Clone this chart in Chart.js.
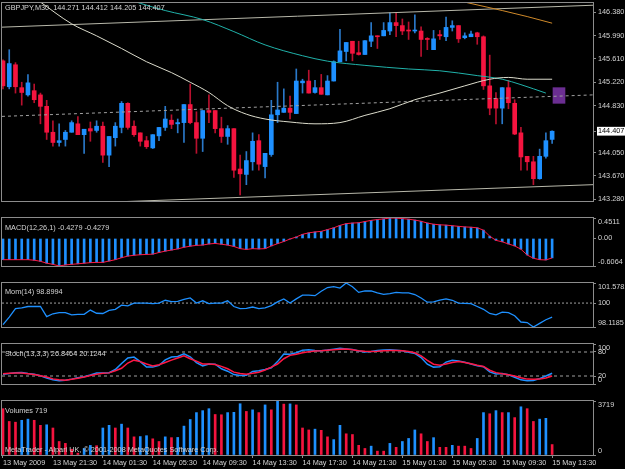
<!DOCTYPE html>
<html>
<head>
<meta charset="utf-8">
<script src="https://cdn.jsdelivr.net/npm/chart.js@4.4.0/dist/chart.umd.min.js"></script>
<style>
html, body { margin: 0; padding: 0; background: #000; overflow: hidden; }
#wrap { position: relative; width: 625px; height: 469px; background: #000; }
canvas { position: absolute; left: 0; }
.lbl { position: absolute; left: 5px; font: 7.3px "Liberation Sans", Arial, sans-serif; line-height: 9px; color: #d4d4d4; white-space: pre; }
</style>
</head>
<body>
<div id="wrap">
  <canvas id="cMain" width="625" height="219" style="top:0px"></canvas>
  <canvas id="cMacd" width="625" height="66" style="top:216px"></canvas>
  <canvas id="cMom" width="625" height="62" style="top:281px"></canvas>
  <canvas id="cStoch" width="625" height="58" style="top:342px"></canvas>
  <canvas id="cVol" width="625" height="70" style="top:399px"></canvas>
  <div class="lbl" style="top:3px">GBPJPY,M30  144.271 144.412 144.205 144.407</div>
  <div class="lbl" style="top:223px">MACD(12,26,1) -0.4279 -0.4279</div>
  <div class="lbl" style="top:287px">Mom(14) 98.8994</div>
  <div class="lbl" style="top:349px">Stoch(13,3,3) 26.8464 20.1244</div>
  <div class="lbl" style="top:406px">Volumes 719</div>
  <div class="lbl" style="top:445px">MetaTrader - Alpari UK, © 2001-2008 MetaQuotes Software Corp.</div>
</div>
<script>
// --- bars (M30), index 0 = 13 May 17:30 ---
const timeLabels = ['13 May 2009', '13 May 21:30', '14 May 01:30', '14 May 05:30', '14 May 09:30', '14 May 13:30',
  '14 May 17:30', '14 May 21:30', '15 May 01:30', '15 May 05:30', '15 May 09:30', '15 May 13:30'];
const timeTickBars = [0, 8, 16, 24, 32, 40, 48, 56, 64, 72, 80, 88];

const candleOpen = [145.575,145.145,145.51,145.13,145.01,145.08,145.01,144.82,144.39,144.22,
  144.27,144.39,144.53,144.35,144.45,144.42,144.49,144.01,144.30,144.47,
  144.87,144.49,144.38,144.25,144.13,144.33,144.47,144.59,144.53,144.55,
  144.85,144.55,144.29,144.75,144.75,144.45,144.32,144.45,143.78,143.69,
  143.90,144.25,143.82,144.02,144.68,144.72,144.79,144.70,145.21,145.24,
  145.05,145.13,145.01,145.24,145.56,145.73,145.90,145.71,145.68,145.90,
  145.99,145.99,146.07,146.21,146.16,146.08,146.07,146.07,145.94,145.76,
  146.01,145.975,146.13,146.16,145.96,145.975,146.04,145.975,145.16,144.95,
  144.79,145.13,144.87,144.38,143.99,143.90,143.62,143.99,144.271];
const candleHigh = [145.59,145.76,145.545,145.22,145.345,145.19,145.04,144.92,144.58,144.53,
  144.42,144.58,144.65,144.44,144.56,144.58,144.56,144.32,144.55,144.90,
  144.88,144.58,144.38,144.32,144.35,144.47,144.82,144.68,144.61,144.85,
  145.19,144.73,144.75,145.01,144.75,144.64,144.50,144.45,144.01,144.07,
  144.38,144.35,144.04,144.92,145.22,145.11,144.99,145.44,145.27,145.42,
  145.25,145.35,145.33,145.575,146.10,145.88,145.90,145.90,145.91,146.21,
  145.99,146.21,146.37,146.37,146.27,146.22,146.34,146.14,145.96,146.08,
  146.08,146.30,146.24,146.16,146.04,146.07,146.05,145.99,145.67,145.05,
  145.13,145.25,144.93,144.47,143.99,143.99,144.11,144.38,144.412];
const candleLow = [145.11,145.11,145.04,144.84,144.99,144.88,144.53,144.27,144.16,144.16,
  144.16,144.39,144.35,144.04,144.24,144.39,143.89,143.82,144.16,144.38,
  144.44,144.32,144.16,144.12,144.12,144.25,144.42,144.45,144.38,144.22,
  144.53,144.04,144.07,144.55,144.38,144.22,144.19,143.64,143.35,143.52,
  143.76,143.76,143.63,143.99,144.55,144.72,144.61,144.70,145.04,145.04,
  145.04,145.02,145.01,145.24,145.56,145.575,145.575,145.67,145.68,145.81,
  145.78,145.99,146.01,145.975,146.01,145.93,146.04,145.65,145.76,145.76,
  145.93,145.91,146.07,145.88,145.94,145.975,145.85,145.10,144.68,144.53,
  144.53,144.78,144.35,143.76,143.76,143.52,143.61,143.96,144.205];
const candleClose = [145.16,145.53,145.145,145.05,145.21,144.93,144.82,144.39,144.22,144.25,
  144.39,144.55,144.35,144.44,144.41,144.49,144.01,144.32,144.49,144.87,
  144.47,144.35,144.24,144.15,144.35,144.47,144.61,144.52,144.55,144.85,
  144.55,144.29,144.75,144.72,144.45,144.32,144.45,143.76,143.70,143.92,
  144.24,143.86,144.04,144.68,144.76,144.79,144.72,145.24,145.24,145.04,
  145.13,145.02,145.24,145.56,145.74,145.88,145.70,145.68,145.91,145.99,
  145.975,146.08,146.21,146.16,146.07,146.07,146.08,145.93,145.93,145.94,
  145.99,146.13,146.16,145.94,145.99,146.02,145.975,145.16,144.79,144.79,
  145.13,144.88,144.36,143.98,143.90,143.62,143.99,144.25,144.407];

// moving averages (read at a few bars)
const maWhiteBars = [6, 11, 15, 19, 23, 27, 30, 33, 36, 39, 42, 46, 50, 54, 58, 62, 66, 70, 74, 78, 81, 84, 88];
const maWhiteVals = [146.55, 146.19, 145.99, 145.78, 145.56, 145.38, 145.22, 145.05, 144.83, 144.69, 144.61, 144.56, 144.53,
  144.55, 144.67, 144.78, 144.93, 145.04, 145.16, 145.27, 145.30, 145.27, 145.27];
const maTealBars = [20, 22, 26, 32, 37, 42, 48, 52, 58, 65, 70, 76, 80, 83, 87];
const maTealVals = [146.60, 146.53, 146.41, 146.26, 146.06, 145.84, 145.66, 145.57, 145.50, 145.44, 145.41, 145.33, 145.27, 145.18, 145.04];
const maOrangeBars = [72, 74, 80, 84, 88];
const maOrangeVals = [146.60, 146.55, 146.41, 146.31, 146.20];

// channel lines (start bar, end bar)
const channelBars = [-0.16, 94.55];
const channelUpper = [146.134, 146.498];
const channelMiddle = [144.653, 145.010];
const channelLower = [143.166, 143.520];

// rectangle object
const boxBar = [89.1];
const boxLow = [144.87];
const boxHigh = [145.13];

const priceRange = [143.249, 146.535];
const priceTicks = [146.380, 145.990, 145.610, 145.220, 144.830, 144.407, 144.050, 143.670, 143.280];
const lastPrice = 144.407;

// MACD(12,26,1): signal equals main with period 1
const macdMain = [-0.467,-0.467,-0.467,-0.467,-0.467,-0.479,-0.503,-0.545,-0.570,-0.6064,
  -0.582,-0.570,-0.558,-0.545,-0.533,-0.527,-0.527,-0.497,-0.467,-0.424,
  -0.388,-0.370,-0.358,-0.352,-0.345,-0.309,-0.279,-0.255,-0.230,-0.194,
  -0.170,-0.152,-0.145,-0.121,-0.109,-0.127,-0.145,-0.176,-0.224,-0.242,
  -0.224,-0.230,-0.224,-0.164,-0.115,-0.067,-0.012,0.033,0.092,0.124,
  0.144,0.157,0.196,0.235,0.288,0.327,0.340,0.346,0.373,0.399,
  0.418,0.431,0.4511,0.449,0.438,0.425,0.405,0.379,0.340,0.314,
  0.301,0.294,0.281,0.268,0.255,0.248,0.235,0.183,0.052,-0.042,
  -0.073,-0.121,-0.164,-0.236,-0.364,-0.436,-0.467,-0.473,-0.4279];
const macdSignal = macdMain.slice();
const macdRange = [-0.6064, 0.4511];
const macdTicks = [0.4511, 0, -0.6064];

const momVals = [98.30,98.90,99.56,99.62,99.73,99.73,99.73,98.93,99.16,99.25,
  99.25,99.07,99.11,99.11,99.45,99.20,99.18,99.42,99.51,99.84,
  99.78,100,100,100,99.96,100,100.22,100.11,100.13,100.29,
  100.40,100,100.18,99.96,100,100,100.18,99.73,99.56,99.58,
  99.69,99.56,99.62,99.80,100.09,100.33,100,100.33,100.62,100.62,
  100.58,100.93,101.22,101.29,101.18,101.5782,101.29,100.84,100.95,100.95,
  100.80,100.69,100.75,100.84,100.80,100.80,100.67,100.40,100.07,100.09,
  100.24,100.33,100.22,100,99.98,99.96,99.73,99.51,99.18,99.07,
  99.29,99.25,99.00,98.51,98.47,98.1185,98.40,98.69,98.8994];
const momLevel = 100;
const momRange = [98.1185, 101.5782];
const momTicks = [101.5782, 100, 98.1185];

const stochMain = [24.2,26,28.4,29,26,24.2,20.6,15.2,10.4,8,
  9.2,12.2,15.8,18.2,22.4,27.2,27.2,28.4,36.2,51.2,
  65,67.4,56,42.2,42.2,46.4,60.2,67.4,68.6,75.2,
  68,53.6,45.2,50,49.4,38,32,23.6,21.2,21.8,
  31.4,33.2,36.2,40.4,56,75.2,74.6,78.2,84.2,85.4,
  83.6,83,84.8,87.2,89.6,87.8,86,82.4,80,81.2,
  83.6,84.8,85.4,84.2,83,79.4,76.4,66.2,49.4,42.2,
  42.8,54.8,59.6,57.8,54.2,50,45.8,43.4,30.2,24.8,
  26,23,17,10.4,8,8.6,13.4,20,26.8464];
const stochSignal = [25.4,26.6,27.8,27.2,25.4,23.6,20.6,17.6,12.8,10.4,
  9.2,11.6,14.6,17.6,21.2,24.2,26.6,27.8,33.2,39.2,
  52.4,59.6,56,50,45.2,48.2,53.6,59.6,65,70.4,
  63.2,57.2,50,50,48.8,44,38,29.6,26,24.2,
  26.6,29.6,35,42.2,50,63.2,71.6,74.6,78.2,80.6,
  82.4,83,84.2,85.4,86.6,87.2,85.4,83,81.8,81.2,
  81.8,83,83.6,83.6,83,81.2,78.2,70.4,59,49.4,
  47,50,53.6,56,53.6,50.6,47,44,34.4,28.4,
  25.4,23,20,15.8,12.2,11.6,12.2,15.2,20.1244];
const stochLevels = [80, 20];
const stochTicks = [100, 80, 20, 0];

const volumes = [3190,2310,2260,2390,2470,2390,2045,2080,1860,930,
  800,400,130,450,660,640,1860,2045,1860,2125,
  1860,1250,1270,1330,1115,930,1250,1195,1210,1990,
  2445,2920,3055,3190,2790,2770,2920,2940,3530,3000,
  3110,2920,3450,3110,3719,3505,3520,3450,1860,1725,
  1780,1700,1250,1060,2045,1460,1410,665,450,610,
  265,265,800,530,930,1140,1725,1460,930,1195,
  530,530,665,610,610,450,1140,2920,2840,3055,
  2920,2920,2575,3320,3190,2310,2470,2525,719];
const volumeUp = [0,0,0,1,1,0,0,1,0,0, 0,0,0,1,1,0,1,1,0,1, 0,0,1,1,0,0,1,0,1,1,
  1,1,1,1,0,0,1,1,1,0, 1,0,1,0,1,0,1,0,0,0, 1,0,0,1,1,0,0,0,0,1,
  0,0,1,0,1,1,1,0,0,1, 0,0,1,0,0,0,1,1,0,1, 0,1,0,1,0,0,1,1,0];
const volTicks = [3719, 0];

// --- styling ---
const TXT = '#d4d4d4';
const AXIS = '#8c8c8c';
const UP = '#1e90ff', DOWN = '#f5143f';
const WICK_UP = '#2a78c8', WICK_DOWN = '#b8102e';
const X_MIN = -0.16, X_MAX = 94.55;

Chart.defaults.font.family = '"Liberation Sans", Arial, sans-serif';
Chart.defaults.font.size = 7.3;
Chart.defaults.color = TXT;

const frame = {
  id: 'frame',
  beforeDraw(chart) {
    const { ctx, chartArea: a } = chart;
    ctx.save();
    ctx.strokeStyle = AXIS;
    ctx.lineWidth = 1;
    ctx.strokeRect(a.left - 0.5, a.top - 0.5, a.right - a.left + 1, a.bottom - a.top + 1);
    ctx.restore();
  }
};

function xAxis(show) {
  return {
    type: 'linear', min: X_MIN, max: X_MAX, display: show, offset: false,
    afterFit: s => { s.height = 14; s.paddingLeft = 0; s.paddingRight = 0; },
    afterBuildTicks: s => { s.ticks = timeTickBars.map(v => ({ value: v })); },
    grid: { drawOnChartArea: false, drawTicks: true, tickLength: 3, color: AXIS, offset: false },
    border: { display: false },
    ticks: { autoSkip: false, maxRotation: 0, align: 'start', padding: 1, color: TXT,
      callback: (v, i) => timeLabels[i] }
  };
}

// labels at the panel edges are pushed inside, like the terminal does
function yAxis(range, tickVals, fmt, inset) {
  return {
    position: 'right', min: range[0], max: range[1],
    afterFit: s => { s.width = 32; s.paddingTop = 0; s.paddingBottom = 0; },
    afterBuildTicks: s => { s.ticks = tickVals.map(v => ({ value: v })); },
    grid: { drawOnChartArea: false, drawTicks: true, tickLength: 3, color: AXIS },
    border: { display: false },
    ticks: {
      autoSkip: false, padding: 2, color: TXT,
      callback: v => {
        const s = fmt(v);
        if (inset && v === range[1]) return ['', s];
        if (inset && v === range[0]) return [s, ''];
        return s;
      }
    }
  };
}

function panel(id, datasets, y, showX, pad) {
  return new Chart(document.getElementById(id), {
    type: 'bar',
    data: { datasets },
    options: {
      responsive: false, animation: false, devicePixelRatio: 1, events: [],
      layout: { padding: { left: 2, right: 0, top: pad[0], bottom: pad[1] } },
      plugins: { legend: { display: false }, tooltip: { enabled: false } },
      scales: { x: xAxis(showX), y }
    },
    plugins: [frame]
  });
}

const pts = (xs, ys) => xs.map((x, i) => ({ x, y: ys[i] }));
const byBar = ys => ys.map((y, i) => ({ x: i, y }));
const lineDs = (data, color, extra) => Object.assign({
  type: 'line', data, borderColor: color, borderWidth: 1, pointRadius: 0, fill: false, tension: 0, order: 0
}, extra || {});

const isUp = candleClose.map((c, i) => c >= candleOpen[i]);

// --- main price panel ---
const mainY = yAxis(priceRange, priceTicks, v => v.toFixed(3), false);
mainY.ticks.showLabelBackdrop = ctx => ctx.tick && ctx.tick.value === lastPrice;
mainY.ticks.backdropColor = '#ffffff';
mainY.ticks.backdropPadding = { left: 1, right: 1, top: 0, bottom: 0 };
mainY.ticks.color = ctx => (ctx.tick && ctx.tick.value === lastPrice) ? '#000000' : TXT;

panel('cMain', [
  lineDs(pts(maWhiteBars, maWhiteVals), '#dcdccc', { cubicInterpolationMode: 'monotone' }),
  lineDs(pts(maTealBars, maTealVals), '#20b2aa', { cubicInterpolationMode: 'monotone' }),
  lineDs(pts(maOrangeBars, maOrangeVals), '#d08a2a', { cubicInterpolationMode: 'monotone' }),
  lineDs(pts(channelBars, channelUpper), '#b8b8aa'),
  lineDs(pts(channelBars, channelMiddle), '#a0a0a0', { borderDash: [3, 3] }),
  lineDs(pts(channelBars, channelLower), '#b8b8aa'),
  {
    data: boxBar.map((x, i) => ({ x, y: [boxLow[i], boxHigh[i]] })),
    backgroundColor: '#6b2e92', barThickness: 12, grouped: false, borderWidth: 0, order: 1
  },
  {
    data: candleOpen.map((o, i) => ({ x: i, y: [o, candleClose[i]] })),
    backgroundColor: isUp.map(u => u ? UP : DOWN),
    barThickness: 4, minBarLength: 1, grouped: false, borderWidth: 0, order: 2
  },
  {
    data: candleLow.map((l, i) => ({ x: i, y: [l, candleHigh[i]] })),
    backgroundColor: isUp.map(u => u ? WICK_UP : WICK_DOWN),
    barThickness: 1, grouped: false, borderWidth: 0, order: 3
  }
], mainY, false, [3, 4]);

// --- MACD ---
panel('cMacd', [
  lineDs(byBar(macdSignal), '#ff1744'),
  { data: byBar(macdMain), backgroundColor: UP, barThickness: 2, grouped: false, borderWidth: 0, order: 1 }
], yAxis(macdRange, macdTicks, v => v === 0 ? '0.00' : v.toFixed(4), true), false, [2, 2]);

// --- Momentum ---
panel('cMom', [
  lineDs(byBar(momVals), UP, { borderWidth: 1.3 }),
  lineDs(pts([X_MIN, X_MAX], [momLevel, momLevel]), '#a0a0a0', { borderDash: [2, 2] })
], yAxis(momRange, momTicks, v => v === 100 ? '100' : v.toFixed(4), true), false, [2, 2]);

// --- Stochastic ---
panel('cStoch', [
  lineDs(byBar(stochSignal), '#ff1744', { borderWidth: 1.5 }),
  lineDs(byBar(stochMain), UP, { borderWidth: 1.5 }),
  ...stochLevels.map(l => lineDs(pts([X_MIN, X_MAX], [l, l]), '#a0a0a0', { borderDash: [3, 3] }))
], yAxis([0, 100], stochTicks, v => String(v), true), false, [2, 2]);

// --- Volumes ---
panel('cVol', [
  { data: byBar(volumes), backgroundColor: volumeUp.map(u => u ? UP : DOWN),
    barThickness: 2, grouped: false, borderWidth: 0, order: 1 }
], yAxis([0, 3719], volTicks, v => String(v), true), true, [2, 0]);
</script>
</body>
</html>
